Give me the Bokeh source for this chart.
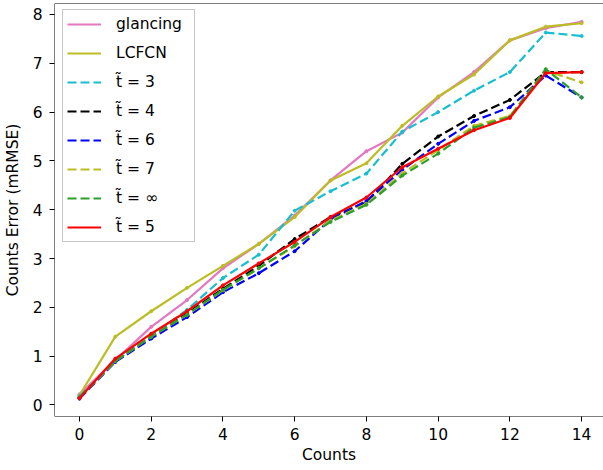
from bokeh.plotting import figure
from bokeh.models import Range1d, FixedTicker, Legend, LegendItem, Span
from bokeh.embed import file_html
from bokeh.resources import INLINE

counts = list(range(15))
glancing = [0.22, 0.92, 1.60, 2.15, 2.80, 3.30, 3.88, 4.60, 5.20, 5.58, 6.30, 6.82, 7.47, 7.72, 7.85]
lcfcn = [0.20, 1.40, 1.92, 2.40, 2.85, 3.30, 3.85, 4.60, 4.95, 5.72, 6.32, 6.77, 7.47, 7.75, 7.82]
t3 = [0.18, 0.90, 1.42, 1.95, 2.60, 3.08, 3.98, 4.38, 4.74, 5.60, 6.00, 6.44, 6.82, 7.63, 7.56]
t4 = [0.15, 0.90, 1.38, 1.88, 2.38, 2.85, 3.40, 3.85, 4.15, 4.94, 5.50, 5.92, 6.25, 6.82, 6.82]
t6 = [0.13, 0.88, 1.36, 1.80, 2.31, 2.70, 3.15, 3.80, 4.18, 4.82, 5.35, 5.82, 6.10, 6.75, 6.30]
t7 = [0.15, 0.90, 1.40, 1.85, 2.35, 2.80, 3.25, 3.78, 4.12, 4.75, 5.22, 5.72, 5.92, 6.85, 6.61]
tinf = [0.15, 0.90, 1.40, 1.85, 2.36, 2.80, 3.27, 3.75, 4.10, 4.70, 5.15, 5.68, 5.90, 6.88, 6.30]
t5 = [0.14, 0.95, 1.46, 1.92, 2.45, 2.90, 3.34, 3.85, 4.25, 4.87, 5.25, 5.63, 5.88, 6.80, 6.82]

labels = ["glancing", "LCFCN", "t\u0303 = 3", "t\u0303 = 4", "t\u0303 = 6",
          "t\u0303 = 7", "t\u0303 = \u221e", "t\u0303 = 5"]
values = [glancing, lcfcn, t3, t4, t6, t7, tinf, t5]
colors = ["#e377c2", "#bcbd22", "#17becf", "#000000", "#0000ff", "#bcbd22", "#2ca02c", "#ff0000"]
dashes = ["solid", "solid", "9 4", "9 4", "9 4", "9 4", "9 4", "solid"]

x_ticks = [0, 2, 4, 6, 8, 10, 12, 14]
y_ticks = [0, 1, 2, 3, 4, 5, 6, 7, 8]

FONT = "DejaVu Sans"
X_START, X_END = -0.696, 14.61
Y_START, Y_END = -0.236, 8.225

p = figure(width=603, height=466, output_backend="svg", toolbar_location=None,
           x_range=Range1d(X_START, X_END), y_range=Range1d(Y_START, Y_END),
           min_border_left=53, min_border_right=0, min_border_top=3, min_border_bottom=50,
           x_axis_label="Counts", y_axis_label="Counts Error (mRMSE)")
p.outline_line_color = None
p.grid.visible = False
p.background_fill_color = "white"
p.border_fill_color = "white"

for ax, ticks in ((p.xaxis[0], x_ticks), (p.yaxis[0], y_ticks)):
    ax.ticker = FixedTicker(ticks=ticks)
    ax.major_tick_out = 5
    ax.major_tick_in = 0
    ax.minor_tick_line_color = None
    ax.axis_line_color = None
    ax.major_tick_line_color = "black"
    ax.major_label_text_font = FONT
    ax.major_label_text_font_size = "15.5px"
    ax.major_label_text_color = "black"
    ax.axis_label_text_font = FONT
    ax.axis_label_text_font_size = "15.5px"
    ax.axis_label_text_font_style = "normal"
    ax.axis_label_text_color = "black"

p.xaxis.major_label_standoff = 6
p.xaxis.axis_label_standoff = 3
p.yaxis.major_label_standoff = 7
p.yaxis.axis_label_standoff = 8

# spines: top, left, bottom
p.add_layout(Span(location=Y_END, dimension="width", line_color="black", line_width=1))
p.add_layout(Span(location=Y_START, dimension="width", line_color="black", line_width=1))
p.add_layout(Span(location=X_START, dimension="height", line_color="black", line_width=1))

items = []
for lab, vals, col, dash in zip(labels, values, colors, dashes):
    r1 = p.line(counts, vals, line_color=col, line_width=2.2, line_dash=dash)
    p.scatter(counts, vals, marker="circle", size=3, fill_color=col, line_color=col)
    items.append(LegendItem(label=lab, renderers=[r1]))

legend = Legend(items=items, location=(8, 174), orientation="vertical")
legend.label_text_font = FONT
legend.label_text_font_size = "15.5px"
legend.label_text_color = "black"
legend.glyph_width = 34
legend.glyph_height = 20
legend.label_height = 20
legend.label_width = 74
legend.label_standoff = 15
legend.spacing = 9
legend.padding = 4
legend.margin = 0
legend.border_line_color = "#c8c8c8"
legend.border_line_alpha = 1.0
legend.border_line_width = 1
legend.background_fill_color = "white"
legend.background_fill_alpha = 0.8
p.add_layout(legend, "center")

open("out.html", "w").write(file_html(p, INLINE))
